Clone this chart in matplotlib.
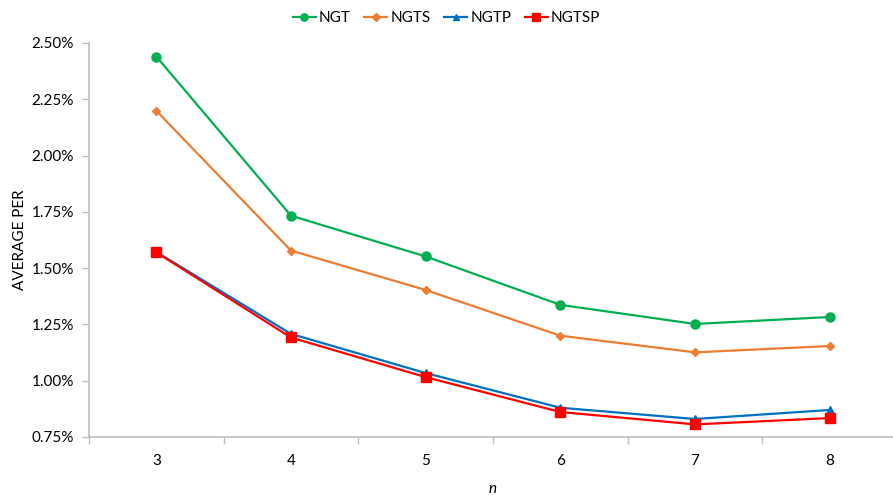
import numpy as np
import matplotlib.pyplot as plt
from matplotlib.ticker import FuncFormatter, FixedLocator

plt.rcParams['font.family'] = ['Lato', 'DejaVu Sans']

# Données
n_vals = ['3', '4', '5', '6', '7', '8']
ngt = [2.44, 1.733, 1.552, 1.337, 1.252, 1.283]
ngts = [2.199, 1.578, 1.403, 1.200, 1.126, 1.154]
ngtp = [1.572, 1.208, 1.034, 0.880, 0.830, 0.870]
ngtsp = [1.570, 1.192, 1.016, 0.861, 0.806, 0.834]

series = [
    ('NGT', ngt, '#00B050', 'o', 6.5),
    ('NGTS', ngts, '#ED7D31', 'D', 4.5),
    ('NGTP', ngtp, '#0070C0', '^', 6),
    ('NGTSP', ngtsp, '#FF0000', 's', 6.5),
]

fig = plt.figure(figsize=(8.93, 4.95), dpi=100)
ax = fig.add_axes([89 / 893, 1 - 437 / 495, (897 - 89) / 893, (437 - 43) / 495])

x = np.arange(len(n_vals))
for nom, vals, couleur, marq, taille in series:
    ax.plot(x, vals, color=couleur, marker=marq, markersize=taille,
            linewidth=1.6, label=nom)

ax.set_xlim(-0.5, len(n_vals) - 0.5)
ax.set_ylim(0.75, 2.5)
ax.set_yticks(np.arange(0.75, 2.51, 0.25))
ax.yaxis.set_major_formatter(FuncFormatter(lambda v, p: '%.2f%%' % v))

# Graduations entre les catégories, étiquettes au centre
ax.xaxis.set_major_locator(FixedLocator(np.arange(-0.5, len(n_vals), 1)))
ax.xaxis.set_major_formatter(FuncFormatter(lambda v, p: ''))
ax.xaxis.set_minor_locator(FixedLocator(x))
ax.set_xticklabels(n_vals, minor=True)
ax.tick_params(axis='x', which='major', length=5, color='#BFBFBF', width=1)
ax.tick_params(axis='x', which='minor', length=0, pad=12, labelsize=11)
ax.tick_params(axis='y', length=5, color='#BFBFBF', width=1, labelsize=11, pad=6)

for cote in ['top', 'right']:
    ax.spines[cote].set_visible(False)
for cote in ['left', 'bottom']:
    ax.spines[cote].set_color('#BFBFBF')
    ax.spines[cote].set_linewidth(1.2)

ax.set_ylabel('AVERAGE PER', fontsize=11, labelpad=3)
ax.set_xlabel('n', fontsize=11, style='italic', labelpad=10)

fig.legend(loc='upper center', bbox_to_anchor=(0.5, 1.005), ncol=4, frameon=False,
           fontsize=11, handlelength=1.5, handletextpad=0.2, columnspacing=0.9,
           markerscale=0.8)

fig.savefig('out.png', dpi=100)
plt.close(fig)
